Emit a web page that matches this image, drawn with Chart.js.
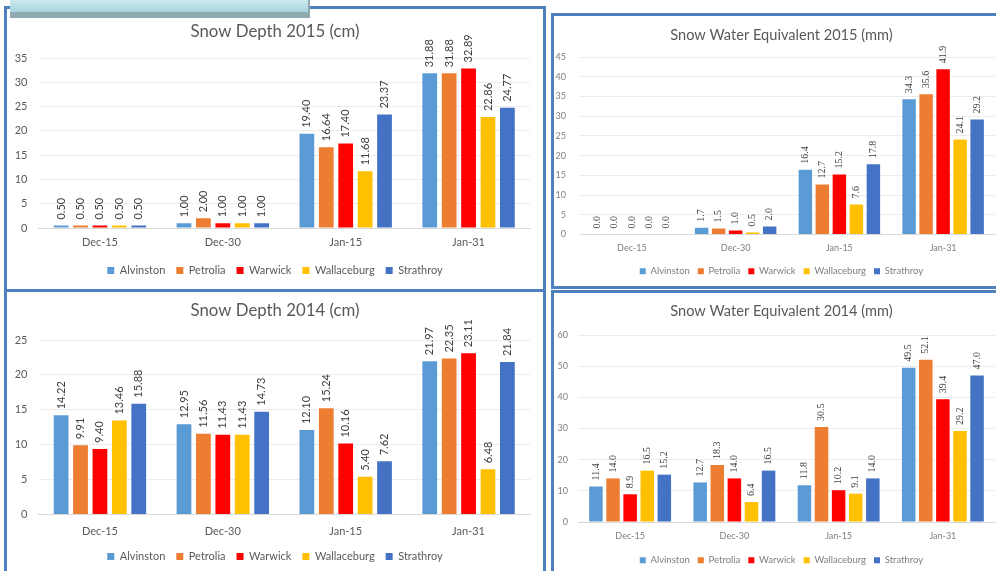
<!DOCTYPE html>
<html>
<head>
<meta charset="utf-8">
<title>Snow depth and snow water equivalent</title>
<script src="https://cdn.jsdelivr.net/npm/chart.js@4.4.0/dist/chart.umd.min.js"></script>
<style>
  body { margin: 0; width: 996px; height: 571px; overflow: hidden; background: #fff; position: relative; font-family: Lato, sans-serif; }
  .panel { position: absolute; border: 3px solid #4f80be; background: #fff; box-sizing: border-box; }
  .tab { position: absolute; left: 10px; top: -2px; width: 298px; height: 14px; background: linear-gradient(#d2ebf1, #a9d5e0);
         border-bottom: 6px solid #8fabb0; border-right: 2px solid #8fabb0; z-index: 5; }
  .box { position: absolute; }
</style>
</head>
<body>
<div class="panel" style="left:4px; top:6px; width:542px; height:286px;"></div>
<div class="panel" style="left:4px; top:289px; width:542px; height:300px;"></div>
<div class="panel" style="left:551px; top:13px; width:460px; height:276px;"></div>
<div class="panel" style="left:551px; top:290px; width:460px; height:300px;"></div>
<div class="tab"></div>

<div class="box" style="left:7px; top:9px; width:536px; height:277px;"><canvas id="depth2015"></canvas></div>
<div class="box" style="left:554px; top:16px; width:442px; height:270px;"><canvas id="swe2015"></canvas></div>
<div class="box" style="left:7px; top:292px; width:536px; height:280px;"><canvas id="depth2014"></canvas></div>
<div class="box" style="left:554px; top:293px; width:442px; height:282px;"><canvas id="swe2014"></canvas></div>

<script>
// categories and series
const dates = ['Dec-15', 'Dec-30', 'Jan-15', 'Jan-31'];
const stations = ['Alvinston', 'Petrolia', 'Warwick', 'Wallaceburg', 'Strathroy'];
const stationColors = ['#5b9bd5', '#ed7d31', '#ff0000', '#ffc000', '#4472c4'];

// one row per station, one value per date
const depth2015 = [
    [0.50, 1.00, 19.40, 31.88],
    [0.50, 2.00, 16.64, 31.88],
    [0.50, 1.00, 17.40, 32.89],
    [0.50, 1.00, 11.68, 22.86],
    [0.50, 1.00, 23.37, 24.77]
];
const swe2015 = [
    [0.0, 1.7, 16.4, 34.3],
    [0.0, 1.5, 12.7, 35.6],
    [0.0, 1.0, 15.2, 41.9],
    [0.0, 0.5, 7.6, 24.1],
    [0.0, 2.0, 17.8, 29.2]
];
const depth2014 = [
    [14.22, 12.95, 12.10, 21.97],
    [9.91, 11.56, 15.24, 22.35],
    [9.40, 11.43, 10.16, 23.11],
    [13.46, 11.43, 5.40, 6.48],
    [15.88, 14.73, 7.62, 21.84]
];
const swe2014 = [
    [11.4, 12.7, 11.8, 49.5],
    [14.0, 18.3, 30.5, 52.1],
    [8.9, 14.0, 10.2, 39.4],
    [16.5, 6.4, 9.1, 29.2],
    [15.2, 16.5, 14.0, 47.0]
];

// y axis ranges: min, max, step
const depth2015Axis = [0, 35, 5];
const swe2015Axis = [0, 45, 5];
const depth2014Axis = [0, 25, 5];
const swe2014Axis = [0, 60, 10];

// vertical value labels above each bar
const barValueLabels = {
    id: 'barValueLabels',
    afterDatasetsDraw(chart, args, opts) {
        const ctx = chart.ctx;
        ctx.save();
        ctx.font = opts.font;
        ctx.fillStyle = opts.color;
        ctx.textAlign = 'left';
        ctx.textBaseline = 'middle';
        chart.data.datasets.forEach((ds, i) => {
            chart.getDatasetMeta(i).data.forEach((bar, j) => {
                ctx.save();
                ctx.translate(bar.x, bar.y - opts.offset);
                ctx.rotate(-Math.PI / 2);
                ctx.fillText(ds.data[j].toFixed(opts.decimals), 0, 0);
                ctx.restore();
            });
        });
        ctx.restore();
    }
};

// title and legend sit centred on the whole panel, not on the plot
const centreOnPanel = {
    id: 'centreOnPanel',
    afterLayout(chart, args, opts) {
        chart.titleBlock.left += opts.shift;
        chart.titleBlock.right += opts.shift;
        chart.legend.left += opts.shift;
        chart.legend.right += opts.shift;
    }
};

function makeChart(id, title, rows, axis, s) {
    new Chart(document.getElementById(id), {
        type: 'bar',
        data: {
            labels: dates,
            datasets: stations.map((name, i) => ({
                label: name,
                data: rows[i],
                backgroundColor: stationColors[i],
                borderWidth: 0,
                categoryPercentage: s.cat,
                barPercentage: s.bar
            }))
        },
        plugins: [barValueLabels, centreOnPanel],
        options: {
            responsive: true,
            maintainAspectRatio: false,
            animation: false,
            layout: { padding: { left: s.side, right: s.right, top: 0, bottom: 0 } },
            scales: {
                x: {
                    grid: { display: false, drawTicks: false },
                    border: { color: '#d9d9d9' },
                    ticks: { color: s.tickColor, font: { family: 'Lato', size: s.tickSize }, padding: s.xPad },
                    afterFit: scale => { scale.height = s.xHeight; }
                },
                y: {
                    min: axis[0],
                    max: axis[1],
                    grid: { color: '#ececec', drawTicks: false },
                    border: { display: false },
                    ticks: { stepSize: axis[2], color: s.tickColor, font: { family: 'Lato', size: s.tickSize }, padding: s.yPad },
                    afterFit: scale => { scale.width = s.yWidth; }
                }
            },
            plugins: {
                title: {
                    display: true,
                    text: title,
                    color: '#595959',
                    font: { family: 'Lato', size: s.titleSize, weight: 'normal' },
                    padding: { top: s.titleTop, bottom: s.titleBottom }
                },
                legend: {
                    position: 'bottom',
                    labels: {
                        boxWidth: s.box,
                        boxHeight: s.box,
                        padding: s.legendPad,
                        color: s.tickColor,
                        font: { family: 'Lato', size: s.legendSize }
                    }
                },
                tooltip: { enabled: false },
                barValueLabels: { font: s.labelFont, color: '#404040', offset: 6, decimals: s.decimals },
                centreOnPanel: { shift: s.shift }
            }
        }
    });
}

const bigStyle = {
    cat: 0.79, bar: 0.76, side: 7, right: 13, shift: 3, tickColor: '#595959', tickSize: 11, xPad: 7, yPad: 11, yWidth: 24.5,
    titleSize: 16.8, box: 7, legendPad: 11, legendSize: 11, labelFont: '11px Lato', decimals: 2
};
const smallStyle = {
    cat: 0.82, bar: 0.79, side: 1, right: 1, shift: 6.5, tickColor: '#7f7f7f', tickSize: 9, xPad: 8, yPad: 14, yWidth: 25,
    titleSize: 14.6, box: 6, legendPad: 8, legendSize: 9.5, labelFont: '10px "Liberation Serif"', decimals: 1
};

makeChart('depth2015', 'Snow Depth 2015 (cm)', depth2015, depth2015Axis,
    Object.assign({}, bigStyle, { titleTop: 12.5, titleBottom: 16.5, xHeight: 26, xPad: 8 }));
makeChart('swe2015', 'Snow Water Equivalent 2015 (mm)', swe2015, swe2015Axis,
    Object.assign({}, smallStyle, { titleTop: 10.3, titleBottom: 13.3, xHeight: 24 }));
makeChart('depth2014', 'Snow Depth 2014 (cm)', depth2014, depth2014Axis,
    Object.assign({}, bigStyle, { titleTop: 9, titleBottom: 18.9, xHeight: 25.5, xPad: 10.4 }));
makeChart('swe2014', 'Snow Water Equivalent 2014 (mm)', swe2014, swe2014Axis,
    Object.assign({}, smallStyle, { titleTop: 9.3, titleBottom: 15.3, xHeight: 25.5, xPad: 8.3, yWidth: 23, yPad: 10 }));
</script>
</body>
</html>
